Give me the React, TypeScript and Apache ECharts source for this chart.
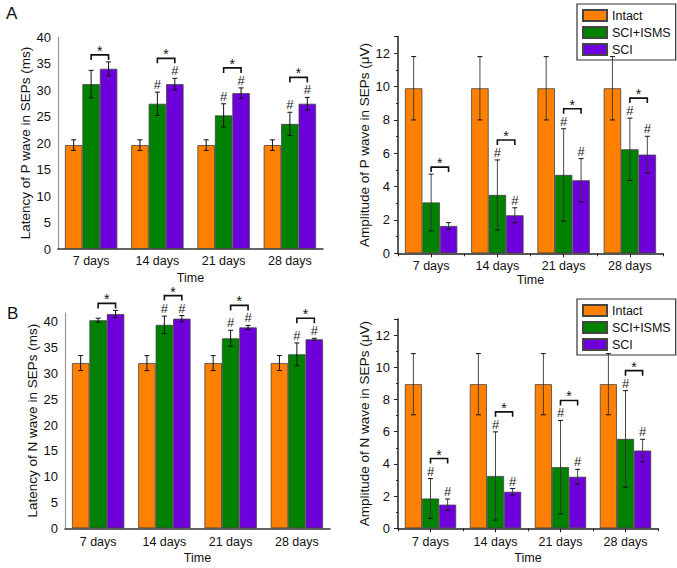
import React, { useEffect, useRef } from 'react';
import * as echarts from 'echarts';

const categories = ['7 days', '14 days', '21 days', '28 days'];
const groupNames = ['Intact', 'SCI+ISMS', 'SCI'];
const groupColors = ['#FF8000', '#008200', '#6E00DC'];

// A (left): Latency of P wave in SEPs (ms)
const pLatIntact = [19.6, 19.6, 19.6, 19.6];
const pLatIntactErr = [1.0, 1.0, 1.0, 1.0];
const pLatIsms = [31.1, 27.4, 25.2, 23.6];
const pLatIsmsErr = [2.6, 2.2, 2.2, 2.2];
const pLatSci = [34.0, 31.1, 29.4, 27.4];
const pLatSciErr = [1.3, 1.1, 1.0, 1.2];
const pLatHashIsms = [false, true, true, true];
const pLatHashSci = [false, true, true, true];

// A (right): Amplitude of P wave in SEPs (µV)
const pAmpIntact = [9.9, 9.9, 9.9, 9.9];
const pAmpIntactErr = [1.9, 1.9, 1.9, 1.9];
const pAmpIsms = [3.05, 3.5, 4.7, 6.24];
const pAmpIsmsErr = [1.7, 2.1, 2.77, 1.87];
const pAmpSci = [1.64, 2.28, 4.38, 5.92];
const pAmpSciErr = [0.2, 0.45, 1.3, 1.1];
const pAmpHashIsms = [false, true, true, true];
const pAmpHashSci = [false, true, true, true];

// B (left): Latency of N wave in SEPs (ms)
const nLatIntact = [32.0, 32.0, 32.0, 32.0];
const nLatIntactErr = [1.45, 1.45, 1.45, 1.45];
const nLatIsms = [40.3, 39.4, 36.8, 33.7];
const nLatIsmsErr = [0.4, 1.7, 1.55, 2.2];
const nLatSci = [41.5, 40.6, 38.9, 36.6];
const nLatSciErr = [0.7, 0.6, 0.4, 0.2];
const nLatHashIsms = [false, true, true, true];
const nLatHashSci = [false, true, true, true];

// B (right): Amplitude of N wave in SEPs (µV)
const nAmpIntact = [8.95, 8.95, 8.95, 8.95];
const nAmpIntactErr = [1.9, 1.9, 1.9, 1.9];
const nAmpIsms = [1.85, 3.25, 3.8, 5.55];
const nAmpIsmsErr = [1.24, 2.74, 2.9, 3.0];
const nAmpSci = [1.47, 2.27, 3.2, 4.83];
const nAmpSciErr = [0.35, 0.2, 0.46, 0.7];
const nAmpHashIsms = [true, true, true, true];
const nAmpHashSci = [true, true, true, true];

const FONT = 'Liberation Sans, Arial, Helvetica, sans-serif';
const CAT_GAP = 0.21;

type Panel = {
  grid: { left: number; top: number; width: number; height: number };
  max: number;
  interval: number;
  yName: string;
  yNameGap: number;
  xNameGap: number;
  labelMargin: number;
  right: boolean;
  values: number[][];
  errs: number[][];
  hash: boolean[][];
};

const panels: Panel[] = [
  {
    grid: { left: 58, top: 37, width: 265, height: 212 },
    max: 40, interval: 5,
    yName: 'Latency of P wave in SEPs (ms)', yNameGap: 23, xNameGap: 22, labelMargin: 5, right: false,
    values: [pLatIntact, pLatIsms, pLatSci],
    errs: [pLatIntactErr, pLatIsmsErr, pLatSciErr],
    hash: [pLatHashIsms, pLatHashSci],
  },
  {
    grid: { left: 398, top: 36.6, width: 265, height: 216.7 },
    max: 13, interval: 2,
    yName: 'Amplitude of P wave in SEPs (\u03bcV)', yNameGap: 23, xNameGap: 17, labelMargin: 6, right: true,
    values: [pAmpIntact, pAmpIsms, pAmpSci],
    errs: [pAmpIntactErr, pAmpIsmsErr, pAmpSciErr],
    hash: [pAmpHashIsms, pAmpHashSci],
  },
  {
    grid: { left: 65, top: 313, width: 265, height: 215.3 },
    max: 41.7, interval: 5,
    yName: 'Latency of N wave in SEPs (ms)', yNameGap: 26, xNameGap: 23, labelMargin: 7, right: false,
    values: [nLatIntact, nLatIsms, nLatSci],
    errs: [nLatIntactErr, nLatIsmsErr, nLatSciErr],
    hash: [nLatHashIsms, nLatHashSci],
  },
  {
    grid: { left: 398, top: 319, width: 260, height: 209.3 },
    max: 13, interval: 2,
    yName: 'Amplitude of N wave in SEPs (\u03bcV)', yNameGap: 22, xNameGap: 23, labelMargin: 7, right: true,
    values: [nAmpIntact, nAmpIsms, nAmpSci],
    errs: [nAmpIntactErr, nAmpIsmsErr, nAmpSciErr],
    hash: [nAmpHashIsms, nAmpHashSci],
  },
];

function buildOption() {
  const grid: any[] = [];
  const xAxis: any[] = [];
  const yAxis: any[] = [];
  const series: any[] = [];
  panels.forEach((p, pi) => {
    grid.push({ ...p.grid, containLabel: false });
    const axisColor = p.right ? '#222' : '#333';
    const xIndex = xAxis.length;
    xAxis.push({
      type: 'category',
      gridIndex: pi,
      data: categories,
      name: 'Time',
      nameLocation: 'middle',
      nameGap: p.xNameGap,
      nameTextStyle: { fontFamily: FONT, fontSize: 12.5, color: '#111' },
      axisLine: { lineStyle: { color: axisColor, width: 1.5 } },
      axisTick: p.right
        ? { show: true, alignWithLabel: true, length: 4, lineStyle: { color: axisColor } }
        : { show: false },
      axisLabel: { fontFamily: FONT, fontSize: 12.5, color: '#111', margin: p.labelMargin },
    });
    if (p.right) {
      xAxis.push({
        type: 'category',
        gridIndex: pi,
        data: categories,
        position: 'bottom',
        axisLine: { show: false },
        axisTick: { show: true, length: 3, lineStyle: { color: axisColor } },
        axisLabel: { show: false },
      });
    }
    const yIndex = yAxis.length;
    yAxis.push({
      type: 'value',
      gridIndex: pi,
      min: 0,
      max: p.max,
      interval: p.interval,
      name: p.yName,
      nameLocation: 'middle',
      nameGap: p.yNameGap,
      nameTextStyle: { fontFamily: FONT, fontSize: 13.5, color: '#111' },
      splitLine: { show: false },
      axisLine: { show: true, lineStyle: { color: p.right ? '#222' : '#999', width: p.right ? 1.5 : 1.2 } },
      axisTick: p.right
        ? { show: true, length: 4, lineStyle: { color: '#222' } }
        : { show: false },
      minorTick: p.right ? { show: true, splitNumber: 2, length: 2, lineStyle: { color: '#222' } } : { show: false },
      axisLabel: {
        fontFamily: FONT,
        fontSize: 13,
        color: '#111',
        margin: p.right ? 8 : 7,
        formatter: (v: number) => (Math.abs(v % p.interval) < 1e-9 ? String(v) : ''),
      },
    });
    for (let g = 0; g < 3; g++) {
      series.push({
        type: 'bar',
        name: groupNames[g],
        xAxisIndex: xIndex,
        yAxisIndex: yIndex,
        data: p.values[g],
        barGap: '0%',
        barCategoryGap: CAT_GAP * 100 + '%',
        itemStyle: { color: groupColors[g], borderColor: '#444', borderWidth: 0.8 },
        emphasis: { disabled: true },
      });
    }
    const errColor = p.right ? '#333' : '#111';
    series.push({
      type: 'custom',
      xAxisIndex: xIndex,
      yAxisIndex: yIndex,
      z: 5,
      clip: false,
      silent: true,
      data: categories.map((_, i) => [i]),
      encode: { x: 0 },
      renderItem: (params: any, api: any) => {
        const i = api.value(0);
        const band = api.size([1, 0])[0];
        const bw = (band * (1 - CAT_GAP)) / 3;
        const cx = api.coord([i, 0])[0];
        const children: any[] = [];
        const tops: number[] = [];
        const xs: number[] = [];
        for (let g = 0; g < 3; g++) {
          const x = cx + (g - 1) * bw;
          xs.push(x);
          const v = p.values[g][i];
          const e = p.errs[g][i];
          const yT = api.coord([i, v + e])[1];
          const yB = api.coord([i, v - e])[1];
          tops.push(yT);
          const ls = { stroke: errColor, lineWidth: p.right ? 0.9 : 1 };
          children.push({ type: 'line', shape: { x1: x, y1: yT, x2: x, y2: yB }, style: ls });
          children.push({ type: 'line', shape: { x1: x - 2.5, y1: yT, x2: x + 2.5, y2: yT }, style: { stroke: '#111', lineWidth: 1 } });
          children.push({ type: 'line', shape: { x1: x - 2.5, y1: yB, x2: x + 2.5, y2: yB }, style: { stroke: '#111', lineWidth: 1 } });
          if (g > 0 && p.hash[g - 1][i]) {
            children.push({
              type: 'text',
              style: {
                x, y: yT - 1, text: '#', align: 'center', verticalAlign: 'bottom',
                fontFamily: FONT, fontSize: 13, fill: '#222',
              },
            });
          }
        }
        const hasHash = p.hash[0][i] || p.hash[1][i];
        const by = Math.min(tops[1], tops[2]) - (hasHash ? 13 : 0) - 7;
        children.push({
          type: 'polyline',
          shape: { points: [[xs[1], by + 5], [xs[1], by], [xs[2], by], [xs[2], by + 5]] },
          style: { stroke: '#111', lineWidth: 1.6, fill: null },
        });
        children.push({
          type: 'text',
          style: {
            x: (xs[1] + xs[2]) / 2, y: by + 3, text: '*', align: 'center', verticalAlign: 'bottom',
            fontFamily: FONT, fontSize: 14, fill: '#111',
          },
        });
        return { type: 'group', children };
      },
    });
  });

  const legendCommon = {
    data: groupNames,
    orient: 'vertical',
    left: 577,
    icon: 'rect',
    itemWidth: 24,
    itemHeight: 11,
    itemGap: 4,
    padding: [5, 5, 4, 5],
    borderColor: '#333',
    borderWidth: 1.2,
    backgroundColor: '#fff',
    selectedMode: false,
    textStyle: { fontFamily: FONT, fontSize: 12.5, color: '#111' },
  };

  return {
    animation: false,
    backgroundColor: '#fff',
    grid,
    xAxis,
    yAxis,
    series,
    legend: [
      { ...legendCommon, top: 4 },
      { ...legendCommon, top: 299 },
    ],
    graphic: [
      { type: 'text', left: 6, top: 5, style: { text: 'A', fontFamily: FONT, fontSize: 17, fill: '#111' } },
      { type: 'text', left: 7, top: 305, style: { text: 'B', fontFamily: FONT, fontSize: 17, fill: '#111' } },
    ],
  };
}

export default function App() {
  const ref = useRef<HTMLDivElement>(null);
  useEffect(() => {
    if (!ref.current) return;
    const chart = echarts.init(ref.current, undefined, { renderer: 'svg' });
    chart.setOption(buildOption() as any);
    return () => chart.dispose();
  }, []);
  return (
    <div
      ref={ref}
      style={{ position: 'absolute', left: 0, top: 0, width: 677, height: 568, background: '#fff' }}
    />
  );
}
